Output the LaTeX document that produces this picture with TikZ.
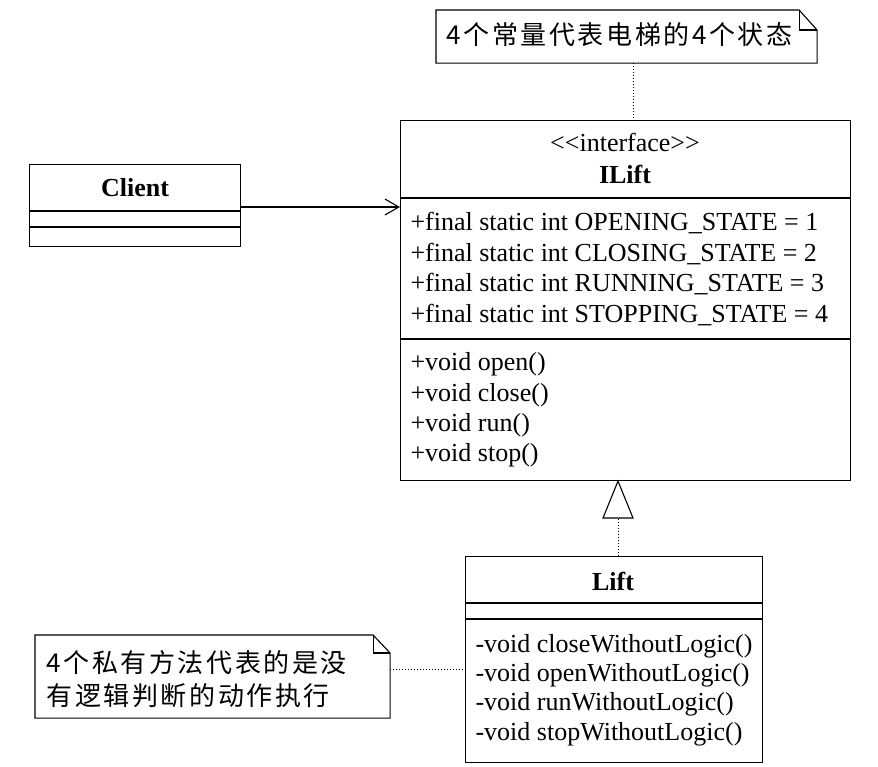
\documentclass[tikz,border=0pt]{standalone}
\usepackage{fontspec}
\setmainfont{Liberation Serif}
\newfontfamily\cjkfont[LetterSpace=10]{Noto Sans CJK SC}
\usetikzlibrary{arrows.meta}
\begin{document}
\begin{tikzpicture}[x=1pt,y=-1pt,line width=1.1pt,
  box/.style={draw, anchor=north west, inner sep=0pt, minimum width=#1},
  frame/.style={anchor=north west, inner sep=0pt, minimum width=#1},
  txt/.style={anchor=base west, inner sep=0pt, font=\fontsize{26}{30}\selectfont},
  ctxt/.style={anchor=base, inner sep=0pt, font=\fontsize{26}{30}\selectfont},
  btxt/.style={anchor=base, inner sep=0pt, font=\fontsize{26}{30}\selectfont\bfseries},
  notetxt/.style={anchor=west, inner sep=0pt, font=\cjkfont\fontsize{26}{30}\selectfont},
  link/.style={dotted, line width=1pt},
  fold/.style={line width=1.1pt}
]
\useasboundingbox (0,0) rectangle (878,766);
\fill[white] (0,0) rectangle (878,766);

% ---------- top note ----------
\node[frame=380, minimum height=52] (note1) at (436,10) {};
\draw[fold] (note1.south west) -- (note1.north west) -- ([xshift=-18pt]note1.north east)
  -- ([yshift=-20pt]note1.north east) -- (note1.south east) -- cycle;
\draw[fold] ([xshift=-18pt]note1.north east) |- ([yshift=-20pt]note1.north east);
\node[notetxt] (note1t) at (446,35) {4个常量代表电梯的4个状态};

% ---------- ILift ----------
\node[box=450, minimum height=360] (ilift) at (400,120) {};
\draw (ilift.west |- 0,198) -- (ilift.east |- 0,198);
\draw (ilift.west |- 0,339) -- (ilift.east |- 0,339);
\node[ctxt] (stereo) at (625,151) {<{}<interface>{}>};
\node[btxt] (iliftname) at (625,183) {ILift};
\node[txt] (a1) at (410,230) {+final static int OPENING\_STATE = 1};
\node[txt] (a2) at (410,261) {+final static int CLOSING\_STATE = 2};
\node[txt] (a3) at (410,291) {+final static int RUNNING\_STATE = 3};
\node[txt] (a4) at (410,322) {+final static int STOPPING\_STATE = 4};
\node[txt] (m1) at (410,370) {+void open()};
\node[txt] (m2) at (410,401) {+void close()};
\node[txt] (m3) at (410,431) {+void run()};
\node[txt] (m4) at (410,461) {+void stop()};

% ---------- Client ----------
\node[box=211, minimum height=82] (client) at (29,164) {};
\draw (client.west |- 0,211) -- (client.east |- 0,211);
\draw (client.west |- 0,227) -- (client.east |- 0,227);
\node[btxt] (clientname) at (135,196) {Client};

% ---------- Lift ----------
\node[box=297, minimum height=206] (lift) at (465,556) {};
\draw (lift.west |- 0,603) -- (lift.east |- 0,603);
\draw (lift.west |- 0,619) -- (lift.east |- 0,619);
\node[btxt] (liftname) at (613,590) {Lift};
\node[txt] (l1) at (475,652) {-void closeWithoutLogic()};
\node[txt] (l2) at (475,681) {-void openWithoutLogic()};
\node[txt] (l3) at (475,710) {-void runWithoutLogic()};
\node[txt] (l4) at (475,740) {-void stopWithoutLogic()};

% ---------- bottom note ----------
\node[frame=354, minimum height=82] (note2) at (35,635) {};
\draw[fold] (note2.south west) -- (note2.north west) -- ([xshift=-17pt]note2.north east)
  -- ([yshift=-18pt]note2.north east) -- (note2.south east) -- cycle;
\draw[fold] ([xshift=-17pt]note2.north east) |- ([yshift=-18pt]note2.north east);
\node[notetxt] (note2a) at (46,663) {4个私有方法代表的是没};
\node[notetxt] (note2b) at (46,696) {有逻辑判断的动作执行};

% ---------- connectors ----------
\coordinate (c1) at (633,0);
\draw[link] (note1.south -| c1) -- (ilift.north -| c1);

\coordinate (c2) at (0,207);
\draw[-{Straight Barb[length=14pt,width=16pt,line width=1.1pt]}] (client.east |- c2) -- (ilift.west |- c2);

\coordinate (c3) at (618,0);
\coordinate (tb) at (618,518);
\draw[link] (lift.north -| c3) -- (tb);
\draw[line width=1.1pt] (ilift.south -| c3) -- ([xshift=-15pt]tb) -- ([xshift=15pt]tb) -- cycle;

\coordinate (c4) at (0,669);
\draw[link] (note2.east |- c4) -- (lift.west |- c4);
\end{tikzpicture}
\end{document}
